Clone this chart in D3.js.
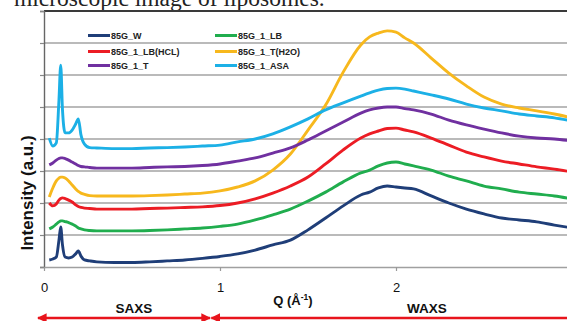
<!DOCTYPE html>
<html>
<head>
<meta charset="utf-8">
<script src="https://cdn.jsdelivr.net/npm/d3@7/dist/d3.min.js"></script>
<style>
  html, body { margin: 0; padding: 0; background: #fff; overflow: hidden; }
  svg { display: block; }
</style>
</head>
<body>
<svg id="chart" width="567" height="321"></svg>
<script>
// Scattering vector Q (Å⁻¹) shared by all profiles
const q = [0.03,0.05,0.07,0.085,0.095,0.105,0.12,0.14,0.16,0.18,0.195,0.21,0.23,0.26,0.3,
  0.4,0.5,0.6,0.7,0.8,0.9,1.0,1.1,1.2,1.3,1.4,1.5,1.6,1.7,1.8,1.85,1.9,1.95,2.0,2.05,2.1,
  2.2,2.3,2.4,2.5,2.6,2.7,2.8,2.9,3.0];

// Stacked intensity profiles (a.u., offset for display)
const i85G_W = [0.22,0.25,0.31,0.84,1.25,0.69,0.31,0.28,0.31,0.41,0.50,0.34,0.22,0.19,0.16,
  0.14,0.14,0.16,0.19,0.22,0.27,0.33,0.41,0.53,0.69,0.84,1.16,1.53,1.91,2.25,2.34,2.47,2.53,2.50,2.47,2.44,
  2.22,2.00,1.81,1.66,1.53,1.47,1.41,1.31,1.22];
const i85G_1_LB = [1.19,1.25,1.34,1.41,1.44,1.44,1.42,1.39,1.34,1.28,1.22,1.19,1.16,1.14,1.13,
  1.13,1.13,1.14,1.16,1.19,1.22,1.27,1.34,1.47,1.63,1.81,2.06,2.34,2.66,2.94,3.03,3.16,3.25,3.28,3.22,3.16,
  3.03,2.84,2.69,2.53,2.44,2.34,2.28,2.22,2.13];
const i85G_1_LB_HCL = [2.00,1.91,1.97,2.09,2.14,2.16,2.14,2.09,2.03,1.94,1.89,1.86,1.84,1.83,1.81,
  1.81,1.81,1.83,1.84,1.86,1.88,1.92,2.00,2.13,2.31,2.53,2.81,3.22,3.66,4.03,4.16,4.25,4.33,4.34,4.28,4.22,
  4.03,3.81,3.59,3.44,3.31,3.22,3.13,3.06,2.97];
const i85G_1_T_H2O = [2.19,2.47,2.69,2.78,2.81,2.81,2.78,2.69,2.56,2.44,2.36,2.31,2.27,2.23,2.22,
  2.22,2.22,2.23,2.25,2.28,2.31,2.38,2.50,2.69,3.03,3.53,4.28,5.06,6.09,6.94,7.19,7.31,7.38,7.34,7.16,7.00,
  6.53,6.06,5.66,5.31,5.09,4.97,4.88,4.78,4.66];
const i85G_1_T = [3.19,3.25,3.34,3.39,3.41,3.41,3.39,3.34,3.28,3.22,3.17,3.14,3.13,3.11,3.09,
  3.09,3.09,3.11,3.13,3.14,3.17,3.22,3.31,3.41,3.56,3.72,3.97,4.25,4.53,4.81,4.91,4.97,5.00,5.00,4.95,4.91,
  4.78,4.59,4.44,4.31,4.19,4.09,4.03,4.00,3.94];
const i85G_1_ASA = [4.03,3.78,3.88,5.22,6.31,4.91,4.19,4.19,4.28,4.47,4.63,4.13,3.84,3.73,3.72,
  3.70,3.70,3.72,3.73,3.75,3.78,3.81,3.91,4.00,4.16,4.38,4.63,4.91,5.13,5.34,5.44,5.53,5.58,5.59,5.56,5.50,
  5.38,5.25,5.09,4.97,4.88,4.78,4.72,4.66,4.56];

const seriesNames  = ["85G_W","85G_1_LB","85G_1_LB(HCL)","85G_1_T(H2O)","85G_1_T","85G_1_ASA"];
const seriesValues = [i85G_W, i85G_1_LB, i85G_1_LB_HCL, i85G_1_T_H2O, i85G_1_T, i85G_1_ASA];
const seriesColors = ["#1f3e78","#20ad4e","#ec1c24","#f7b81d","#7030a0","#1cb0e6"];
// legend layout: row-major, two columns
const legendOrder  = ["85G_W","85G_1_LB","85G_1_LB(HCL)","85G_1_T(H2O)","85G_1_T","85G_1_ASA"];

const xTicks = [0, 1, 2];
const yGrid  = [1, 2, 3, 4, 5, 6, 7];

const svg = d3.select("#chart");
const x = d3.scaleLinear().domain([0, 3]).range([44, 572]);
const y = d3.scaleLinear().domain([0, 8]).range([267, 11]);

// caption line above the figure (cut off by the frame)
svg.append("text")
  .attr("x", 14).attr("y", 6)
  .attr("font-family", "Liberation Serif, Times New Roman, serif")
  .attr("font-size", 23.5)
  .attr("fill", "#222")
  .text("microscopic image of liposomes.");

// horizontal gridlines
svg.append("g").selectAll("line").data(yGrid).join("line")
  .attr("x1", x(0)).attr("x2", 567)
  .attr("y1", d => y(d)).attr("y2", d => y(d))
  .attr("stroke", "#a3a3a3").attr("stroke-width", 1.6);

// plot frame: top border and left axis
svg.append("line").attr("x1", x(0)).attr("x2", 567).attr("y1", y(8)).attr("y2", y(8))
  .attr("stroke", "#3a3a3a").attr("stroke-width", 1.8);

const yAxis = d3.axisLeft(y).tickValues(d3.range(0, 9)).tickSize(4).tickFormat("");
svg.append("g").attr("transform", `translate(${x(0)},0)`).call(yAxis)
  .call(g => g.selectAll("line").attr("stroke", "#888").attr("stroke-width", 1.2))
  .call(g => g.select(".domain").attr("stroke", "#666").attr("stroke-width", 1.4));

// x axis
const xAxis = d3.axisBottom(x).tickValues(xTicks).tickSize(4).tickSizeOuter(0).tickPadding(12)
  .tickFormat(d3.format("d"));
svg.append("g").attr("transform", `translate(0,${y(0)})`).call(xAxis)
  .call(g => g.select(".domain").attr("stroke", "#a0a0a0").attr("stroke-width", 1.6))
  .call(g => g.selectAll("line").attr("stroke", "#999").attr("stroke-width", 1.2))
  .call(g => g.selectAll("text")
    .attr("font-family", "Liberation Sans, Arial, sans-serif")
    .attr("font-size", 13).attr("fill", "#111"));

// profiles
const line = d3.line()
  .x((d, i) => x(q[i]))
  .y(d => y(d))
  .curve(d3.curveMonotoneX);

svg.append("g").selectAll("path").data(seriesValues).join("path")
  .attr("d", d => line(d))
  .attr("fill", "none")
  .attr("stroke", (d, i) => seriesColors[i])
  .attr("stroke-width", 2.9)
  .attr("stroke-linejoin", "round");

// legend
const legendX = [88, 215];
const legendY = [35.5, 51.5, 65.5];
const lg = svg.append("g");
legendOrder.forEach((name, k) => {
  const col = k % 2, row = Math.floor(k / 2);
  const color = seriesColors[seriesNames.indexOf(name)];
  const lx = legendX[col], ly = legendY[row];
  lg.append("line").attr("x1", lx).attr("x2", lx + 22).attr("y1", ly).attr("y2", ly)
    .attr("stroke", color).attr("stroke-width", 3);
  lg.append("text").attr("x", lx + 23).attr("y", ly + 3.2)
    .attr("font-family", "Liberation Sans, Arial, sans-serif")
    .attr("font-weight", "bold").attr("font-size", 9).attr("fill", "#222")
    .text(name);
});

// axis titles
svg.append("text")
  .attr("transform", `translate(33,${(y(0) + y(8)) / 2 + 54}) rotate(-90)`)
  .attr("text-anchor", "middle")
  .attr("font-family", "Liberation Sans, Arial, sans-serif")
  .attr("font-weight", "bold").attr("font-size", 17).attr("fill", "#111")
  .text("Intensity (a.u.)");

const qTitle = svg.append("text")
  .attr("x", 293).attr("y", 305)
  .attr("text-anchor", "middle")
  .attr("font-family", "Liberation Sans, Arial, sans-serif")
  .attr("font-weight", "bold").attr("font-size", 13).attr("fill", "#111");
qTitle.append("tspan").text("Q (Å");
qTitle.append("tspan").attr("font-size", 8.5).attr("dy", -5).text("-1");
qTitle.append("tspan").attr("dy", 5).text(")");

// SAXS / WAXS region markers
const regions = [
  { label: "SAXS", from: 0, to: 0.96 },
  { label: "WAXS", from: 0.985, to: 3.05 }
];
const defs = svg.append("defs");
defs.append("marker").attr("id", "head").attr("viewBox", "0 0 10 10")
  .attr("refX", 9).attr("refY", 5).attr("markerWidth", 4).attr("markerHeight", 4)
  .attr("orient", "auto-start-reverse")
  .append("path").attr("d", "M0,0 L10,5 L0,10 z").attr("fill", "#e8141c");

const rg = svg.append("g");
regions.forEach(r => {
  rg.append("line")
    .attr("x1", x(r.from) - 6).attr("x2", x(r.to) - 3)
    .attr("y1", 318).attr("y2", 318)
    .attr("stroke", "#e8141c").attr("stroke-width", 2.4)
    .attr("marker-start", "url(#head)").attr("marker-end", "url(#head)");
});
rg.selectAll("text").data(regions).join("text")
  .attr("x", (d, i) => i === 0 ? 134 : 427).attr("y", 313)
  .attr("text-anchor", "middle")
  .attr("font-family", "Liberation Sans, Arial, sans-serif")
  .attr("font-weight", "bold").attr("font-size", 13.5).attr("fill", "#111")
  .text(d => d.label);
</script>
</body>
</html>
